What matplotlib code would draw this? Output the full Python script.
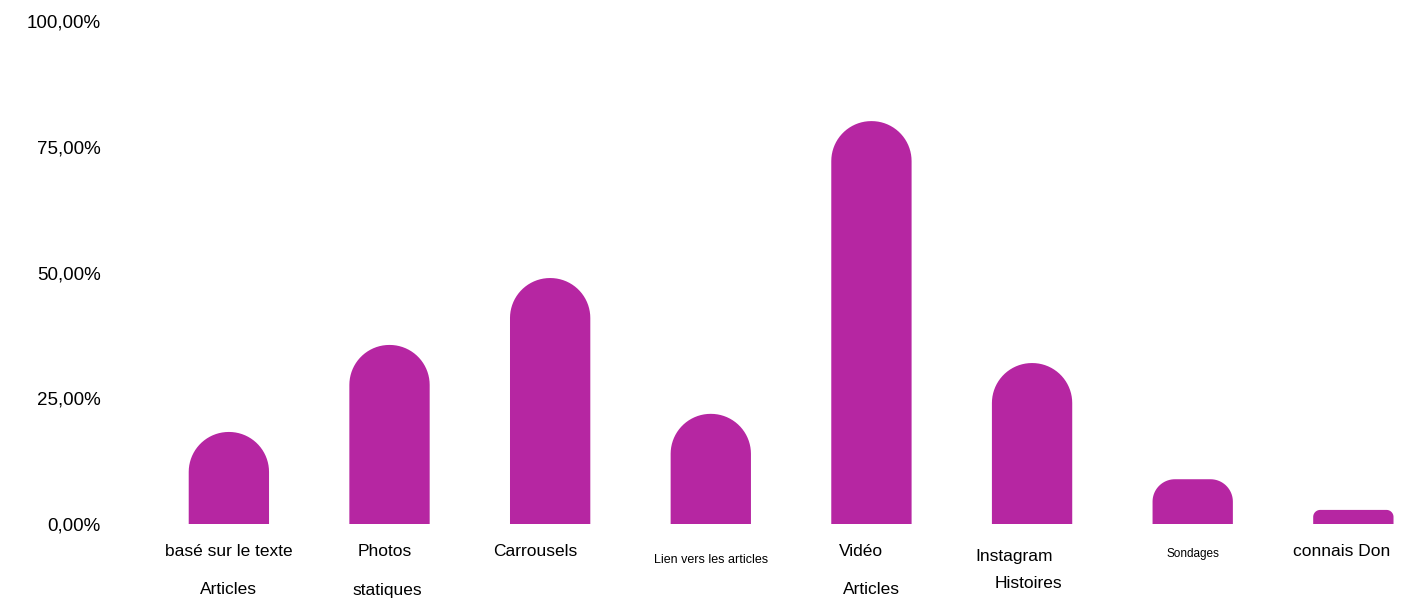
import numpy as np
import matplotlib
matplotlib.use('Agg')
import matplotlib.pyplot as plt
from matplotlib.patches import Polygon
from matplotlib.ticker import FuncFormatter
import matplotlib.transforms as mtransforms

plt.rcParams['font.family'] = ['Liberation Sans', 'DejaVu Sans']

# data
categories = ['Articles basé sur le texte', 'Photos statiques', 'Carrousels', 'Lien vers les articles',
              'Vidéo Articles', 'Instagram Histoires', 'Sondages', 'connais Don']
values = [18.3, 35.6, 48.9, 21.9, 80.1, 32.0, 8.9, 2.8]
yticks = [0, 25, 50, 75, 100]

# label layout as it appears in the picture: (text, dx in px, y in px below axis, fontsize)
label_layout = [
    [('basé sur le texte', 0, 28, 12.5), ('Articles', 0, 65, 12.5)],
    [('Photos', -5, 28, 12.5), ('statiques', -2, 66, 12.5)],
    [('Carrousels', -15, 28, 12.5)],
    [('Lien vers les articles', 0, 36, 9)],
    [('Vidéo', -10, 28, 12.5), ('Articles', 0, 66, 12.5)],
    [('Instagram', -18, 33, 12.5), ('Histoires', -4, 59, 12.5)],
    [('Sondages', 0, 30, 8.5)],
    [('connais Don', -12, 28, 12.5)],
]

color = '#b626a2'
bar_w = 0.5
max_r_px = 40

fig = plt.figure(figsize=(14.18, 6), dpi=100)
ax = fig.add_axes([110 / 1418, 76 / 600, 1306 / 1418, 503 / 600])
ax.set_xlim(-0.74, 7.39)
ax.set_ylim(0, 100)

# pixel scale of the data units
p0 = ax.transData.transform((0, 0))
sx = ax.transData.transform((1, 0))[0] - p0[0]
sy = ax.transData.transform((0, 1))[1] - p0[1]

for i, v in enumerate(values):
    h_px = v * sy
    r_px = min(max_r_px, h_px / 2, bar_w * sx / 2)
    rx = r_px / sx
    ry = r_px / sy
    x0, x1 = i - bar_w / 2, i + bar_w / 2
    t = np.linspace(np.pi, np.pi / 2, 20)
    left_arc = np.column_stack([x0 + rx + rx * np.cos(t), v - ry + ry * np.sin(t)])
    t = np.linspace(np.pi / 2, 0, 20)
    right_arc = np.column_stack([x1 - rx + rx * np.cos(t), v - ry + ry * np.sin(t)])
    pts = np.vstack([[x0, 0], left_arc, right_arc, [x1, 0]])
    ax.add_patch(Polygon(pts, closed=True, facecolor=color, edgecolor='none'))

ax.set_yticks(yticks)
ax.yaxis.set_major_formatter(FuncFormatter(lambda y, _: f'{y:.2f}'.replace('.', ',') + '%'))
ax.tick_params(axis='y', length=0, pad=6.5, labelsize=13.5)
ax.set_xticks([])
for s in ax.spines.values():
    s.set_visible(False)

for i, lines in enumerate(label_layout):
    for text, dx, dy, fs in lines:
        tr = ax.get_xaxis_transform() + mtransforms.ScaledTranslation(dx / 100, -dy / 100, fig.dpi_scale_trans)
        ax.text(i, 0, text, transform=tr, ha='center', va='center', fontsize=fs)

fig.savefig('out.png', dpi=100)
